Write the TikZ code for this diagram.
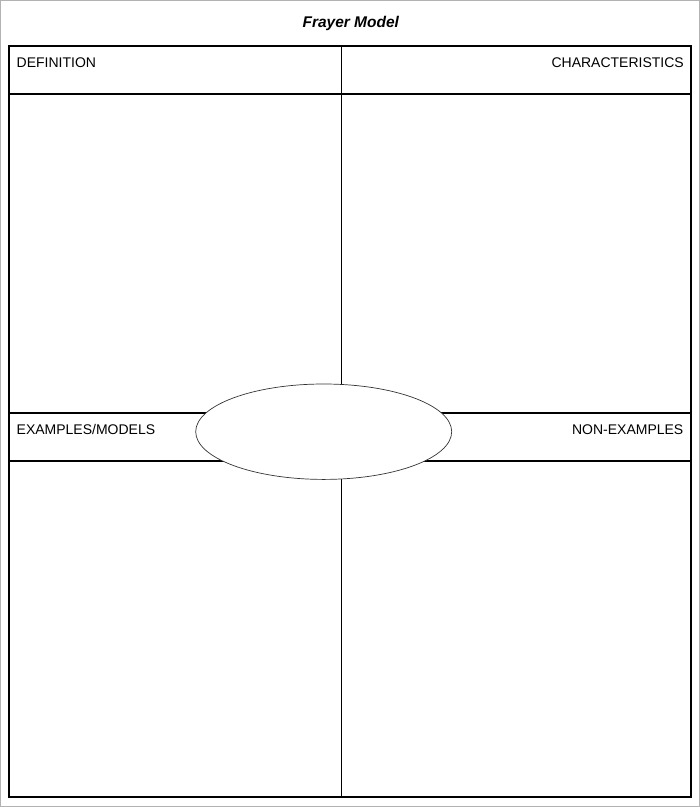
\documentclass[tikz,border=0pt]{standalone}
\usepackage{fontspec}
\setmainfont{Liberation Sans}
\usepackage{tikz}

\begin{document}
\begin{tikzpicture}[x=1pt,y=-1pt,
	heading/.style={inner sep=0pt,font=\fontsize{14}{16}\selectfont},
	rule/.style={line width=2pt}]
\useasboundingbox (0,0) rectangle (700,807);
\draw[gray!60][line width=1pt] (0.5,0.5) rectangle (699.5,806.5);
\node[heading,anchor=base,font=\fontsize{15.5}{18}\selectfont\bfseries\itshape] (title) at (350.8,27.7) {Frayer Model};
% grid
\draw[line width=0.8pt] (341.5,46) -- (341.5,797);
\draw[rule] (9,94) -- (691,94);
\draw[rule] (9,413) -- (691,413);
\draw[rule] (9,461) -- (691,461);
\draw[line width=2.5pt] (9,46) rectangle (691,797);
% centre
\draw[black!80,fill=white][line width=0.7pt] (323.7,431.7) ellipse [x radius=128, y radius=47.7];
\node[heading,anchor=base west] (def) at (16.5,67.3) {DEFINITION};
\node[heading,anchor=base east] (char) at (684,67.3) {CHARACTERISTICS};
\node[heading,anchor=base west] (ex) at (16.5,434.3) {EXAMPLES/MODELS};
\node[heading,anchor=base east] (nonex) at (683.5,434.3) {NON-EXAMPLES};
\end{tikzpicture}
\end{document}
